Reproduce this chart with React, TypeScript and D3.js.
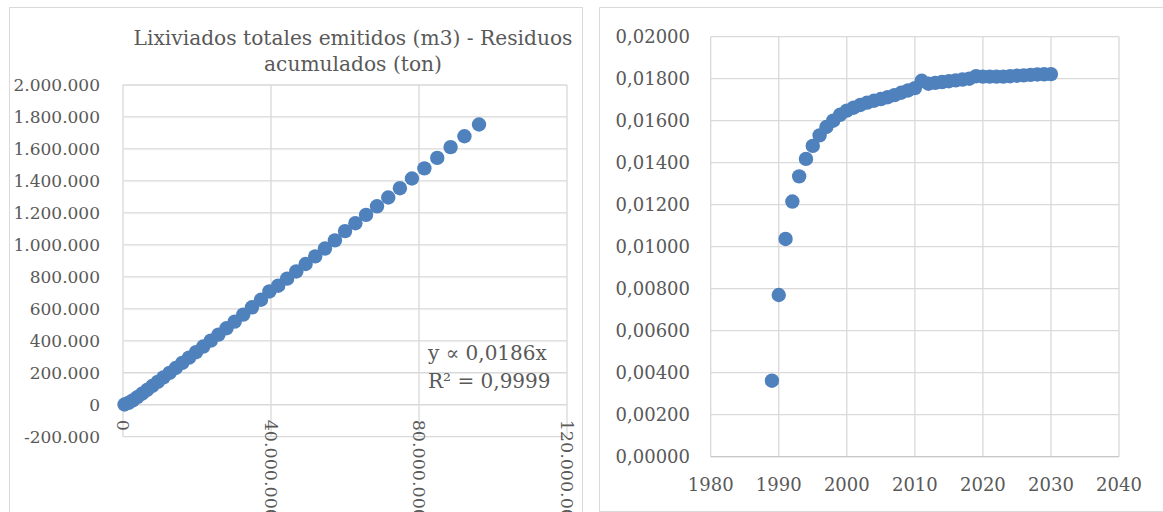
import React from "react";
import * as d3 from "d3";

// ---- Data ----
const years = [1989,1990,1991,1992,1993,1994,1995,1996,1997,1998,1999,2000,2001,2002,2003,2004,2005,2006,2007,2008,2009,2010,2011,2012,2013,2014,2015,2016,2017,2018,2019,2020,2021,2022,2023,2024,2025,2026,2027,2028,2029,2030];

// ratio leachate / residues per year (right chart)
const ratios = [0.00362,0.00770,0.01037,0.01215,0.01335,0.01418,0.01480,0.01530,0.01570,0.01600,0.01628,0.01648,0.01662,0.01675,0.01686,0.01695,0.01703,0.01712,0.01722,0.01733,0.01744,0.01755,0.01790,0.01776,0.01780,0.01784,0.01788,0.01792,0.01796,0.01800,0.01812,0.01810,0.01810,0.01810,0.01810,0.01812,0.01814,0.01816,0.01818,0.01820,0.01821,0.01822];

// cumulative residues (ton) - left chart X
const residuos = [0.41e6,1.49e6,2.64e6,3.85e6,5.14e6,6.49e6,7.91e6,9.39e6,10.95e6,12.57e6,14.26e6,16.01e6,17.84e6,19.73e6,21.69e6,23.72e6,25.81e6,27.97e6,30.20e6,32.50e6,34.86e6,37.30e6,39.58e6,41.95e6,44.36e6,46.84e6,49.36e6,51.95e6,54.58e6,57.27e6,60.01e6,62.81e6,65.69e6,68.65e6,71.69e6,74.84e6,78.09e6,81.46e6,84.93e6,88.54e6,92.28e6,96.22e6];

// cumulative leachate (m3) - left chart Y
const lixiviados = [1500,11500,27400,46800,68600,92000,117100,143200,170800,199200,229600,261800,294400,328500,364000,400900,438800,478300,520000,563900,609400,656500,708500,744600,788700,833800,880100,927800,977000,1028000,1086200,1135600,1187700,1241200,1296200,1354600,1415000,1478500,1544000,1611400,1679500,1753100];

const leftYTicks = [-200000,0,200000,400000,600000,800000,1000000,1200000,1400000,1600000,1800000,2000000];
const leftXTicks = [0,40000000,80000000,120000000];
const rightYTicks = [0,0.002,0.004,0.006,0.008,0.01,0.012,0.014,0.016,0.018,0.02];
const rightXTicks = [1980,1990,2000,2010,2020,2030,2040];

const titleLines = ["Lixiviados totales emitidos (m3) - Residuos", "acumulados (ton)"];
const eqLines = ["y \u221D 0,0186x", "R\u00B2 = 0,9999"];

const locale = d3.formatLocale({ decimal: ",", thousands: ".", grouping: [3], currency: ["", ""], minus: "-" });
const fmtThousands = locale.format(",.0f");
const fmtRatio = locale.format(".5f");

const FONT = "'DejaVu Serif', serif";
const GRID = "#d9d9d9";
const TXT = "#595959";
const DOT = "#4f81bd";

export default function App() {
  // left chart
  const lx = d3.scaleLinear().domain([0, 120000000]).range([123, 567]);
  const ly = d3.scaleLinear().domain([-200000, 2000000]).range([436.7, 85]);
  // right chart
  const rx = d3.scaleLinear().domain([1980, 2040]).range([710.7, 1119]);
  const ry = d3.scaleLinear().domain([0, 0.02]).range([456.7, 36.7]);

  return (
    <svg width={1163} height={512} style={{ position: "absolute", left: 0, top: 0, background: "#fff" }} fontFamily={FONT}>
      <rect x={0} y={0} width={1163} height={512} fill="#fff" />
      {/* frames */}
      <path d="M9.5,520 V7.5 H582.5 V520" fill="none" stroke={GRID} strokeWidth={1} />
      <path d="M599.5,511.5 V7.5 H1170 M599.5,511.5 H1170" fill="none" stroke={GRID} strokeWidth={1} />

      {/* ---------- Left chart ---------- */}
      <g>
        {leftYTicks.map((t) => (
          <line key={"lyg" + t} x1={lx(0)} x2={lx(120000000)} y1={ly(t)} y2={ly(t)} stroke={GRID} strokeWidth={1.3} />
        ))}
        {leftXTicks.map((t) => (
          <line key={"lxg" + t} x1={lx(t)} x2={lx(t)} y1={ly(2000000)} y2={ly(-200000)} stroke={GRID} strokeWidth={1.3} />
        ))}
        {leftYTicks.map((t) => (
          <text key={"lyt" + t} x={100} y={ly(t)} dy="0.35em" textAnchor="end" fontSize={17} fill={TXT}>
            {fmtThousands(t)}
          </text>
        ))}
        {leftXTicks.map((t) => (
          <text key={"lxt" + t} transform={`translate(${lx(t)},${ly(0) + 15}) rotate(90)`} dy="0.35em" textAnchor="start" fontSize={17.5} fill={TXT}>
            {fmtThousands(t)}
          </text>
        ))}
        {residuos.map((xv, i) => (
          <circle key={"lp" + i} cx={lx(xv)} cy={ly(lixiviados[i])} r={7.2} fill={DOT} />
        ))}
        {titleLines.map((s, i) => (
          <text key={"tt" + i} x={353} y={45 + i * 26} textAnchor="middle" fontSize={20.2} fill={TXT}>
            {s}
          </text>
        ))}
        {eqLines.map((s, i) => (
          <text key={"eq" + i} x={428} y={360 + i * 27.5} fontSize={20} fill={TXT}>
            {s}
          </text>
        ))}
      </g>

      {/* ---------- Right chart ---------- */}
      <g>
        {rightYTicks.map((t) => (
          <line key={"ryg" + t} x1={rx(1980)} x2={rx(2040)} y1={ry(t)} y2={ry(t)} stroke={GRID} strokeWidth={1.3} />
        ))}
        {rightXTicks.map((t) => (
          <line key={"rxg" + t} x1={rx(t)} x2={rx(t)} y1={ry(0.02)} y2={ry(0)} stroke={GRID} strokeWidth={1.3} />
        ))}
        <line x1={rx(1980)} x2={rx(2040)} y1={ry(0)} y2={ry(0)} stroke="#c8c8c8" strokeWidth={1.3} />
        {rightYTicks.map((t) => (
          <text key={"ryt" + t} x={690} y={ry(t)} dy="0.35em" textAnchor="end" fontSize={18} fill={TXT}>
            {fmtRatio(t)}
          </text>
        ))}
        {rightXTicks.map((t) => (
          <text key={"rxt" + t} x={rx(t)} y={491} textAnchor="middle" fontSize={18} fill={TXT}>
            {t}
          </text>
        ))}
        {years.map((yr, i) => (
          <circle key={"rp" + i} cx={rx(yr)} cy={ry(ratios[i])} r={7.2} fill={DOT} />
        ))}
      </g>
    </svg>
  );
}
